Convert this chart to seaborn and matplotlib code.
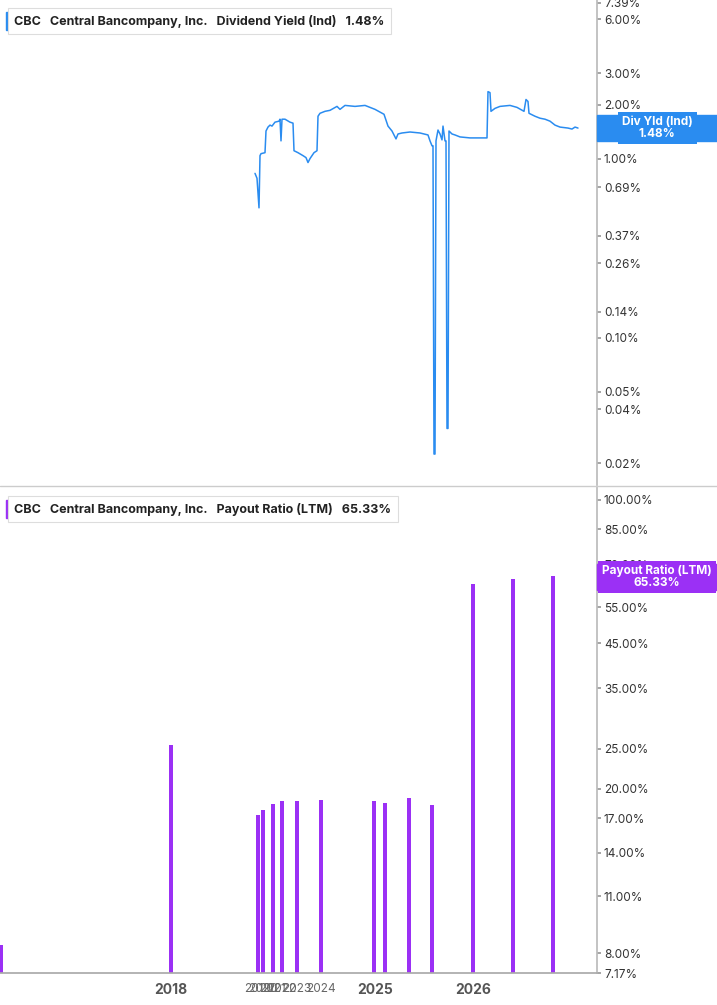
import numpy as np
import pandas as pd
import matplotlib
matplotlib.use("Agg")
import matplotlib.pyplot as plt
import seaborn as sns

# positions are on a compressed (trading-index-like) axis, 0..597
yld_x = [255,257,259,260,261,265,266,268,270,272,275,279,280,281,282,285,290,293,294,298,303,306,308,310,314,317,318,320,325,330,337,340,345,355,365,370,375,384,388,392,396,398,402,410,420,428,430,432,433,434,435,436,438,440,442,443,445,446,447,448,449,452,455,460,470,480,487,488,490,491,495,500,510,517,524,526,528,529,535,540,545,550,555,560,568,572,575,578]
yld_px = [173,178,208,155,153,152,130,126,124,125,121,120,118,140,118,118,121,122,150,152,155,157,162,158,152,150,115,112,110,109,105,108,104,105,104,106,108,113,125,130,138,133,132,131,132,134,140,145,145,458,458,140,129,133,139,125,140,140,432,432,130,133,134,136,137,137,137,90,91,110,107,105,104,106,110,98,100,112,115,117,118,120,124,126,127,128,126,127]
# convert read pixel heights to yield %
yld = [10 ** ((158 - p) / 182) for p in yld_px]

bar_x = [1,171,258,263,273,282,297,321,374,385,409,432,473,513,553]
payout = [8.37,25.5,17.3,17.8,18.4,18.7,18.7,18.8,18.7,18.5,19.0,18.3,62.6,64.4,65.33]

tick_x = [171,258,263,273,282,297,321,375,473]
tick_lbl = ["2018","2019","2020","2021","2022","2023","2024","2025","2026"]
major = {"2018","2025","2026"}

top_ticks = [7.39,6,3,2,1,0.69,0.37,0.26,0.14,0.10,0.05,0.04,0.02]
bot_ticks = [100,85,70,55,45,35,25,20,17,14,11,8,7.17]

BLUE = "#2a8cf0"
PURPLE = "#9b30f5"

sns.set_theme(style="white")
plt.rcParams['font.family'] = ['Inter', 'DejaVu Sans']

fig = plt.figure(figsize=(7.17, 10.05), dpi=100)
W = 597 / 717
ax1 = fig.add_axes([0, 1 - 485 / 1005, W, 485 / 1005])
ax2 = fig.add_axes([0, 1 - 973 / 1005, W, 486 / 1005])

df = pd.DataFrame({"x": yld_x, "y": yld})
sns.lineplot(data=df, x="x", y="y", ax=ax1, color=BLUE, lw=1.1, sort=False)
ax1.set_yscale("log")
ax1.set_ylim(0.0151, 7.67)

for x, v in zip(bar_x, payout):
    ax2.bar(x, v - 7.0, bottom=7.0, width=3.2, color=PURPLE, linewidth=0)
ax2.set_yscale("log")
ax2.set_ylim(7.17, 107.5)

for ax, ticks in ((ax1, top_ticks), (ax2, bot_ticks)):
    ax.set_xlim(0, 597)
    ax.yaxis.tick_right()
    ax.set_yticks(ticks)
    ax.set_yticklabels([f"{t:.2f}%" for t in ticks], fontsize=8.5, color="#333333")
    ax.minorticks_off()
    ax.tick_params(axis="y", length=3, color="#999999", pad=2)
    ax.set_xlabel("")
    ax.set_ylabel("")
    for s in ("top", "left", "bottom"):
        ax.spines[s].set_visible(False)
    ax.spines["right"].set_color("#bbbbbb")

ax1.set_xticks([])
ax2.spines["bottom"].set_visible(True)
ax2.spines["bottom"].set_color("#aaaaaa")
ax2.set_xticks(tick_x)
ax2.set_xticklabels(tick_lbl)
ax2.tick_params(axis="x", length=4, color="#888888", pad=3)
for lab in ax2.get_xticklabels():
    if lab.get_text() in major:
        lab.set_fontsize(10)
        lab.set_fontweight("bold")
        lab.set_color("#555555")
    else:
        lab.set_fontsize(8.5)
        lab.set_color("#666666")

# separator line between panels
fig.add_artist(plt.Line2D([0, 1], [1 - 486 / 1005] * 2, color="#cccccc", lw=1))

# legend boxes
def legend(ax, ypx, color, text, val):
    yy = 1 - ypx / 1005
    fig.text(0.02, yy, f"CBC   Central Bancompany, Inc.   {text}   {val}", fontsize=9,
             fontweight="bold", color="#222222", va="center",
             bbox=dict(boxstyle="square,pad=0.5", fc="white", ec="#dddddd", lw=0.8))
    fig.add_artist(plt.Rectangle((0.008, yy - 0.009), 0.004, 0.018, color=color,
                                 transform=fig.transFigure))

legend(ax1, 21, BLUE, "Dividend Yield (Ind)", "1.48%")
legend(ax2, 509, PURPLE, "Payout Ratio (LTM)", "65.33%")

# right badges
def badge(ypx, color, text):
    fig.text(0.9165, 1 - ypx / 1005, text, fontsize=8.5, fontweight="bold", color="white",
             ha="center", va="center", linespacing=1.0,
             bbox=dict(boxstyle="square,pad=0.35", fc=color, ec="none"))
    fig.patches.append(plt.Rectangle((W, 1 - (ypx + 13) / 1005), 1 - W, 26 / 1005,
                                     color=color, transform=fig.transFigure, zorder=0))

badge(128, BLUE, "Div Yld (Ind)\n1.48%")
badge(577, PURPLE, "Payout Ratio (LTM)\n65.33%")

fig.savefig("out.png", dpi=100)
